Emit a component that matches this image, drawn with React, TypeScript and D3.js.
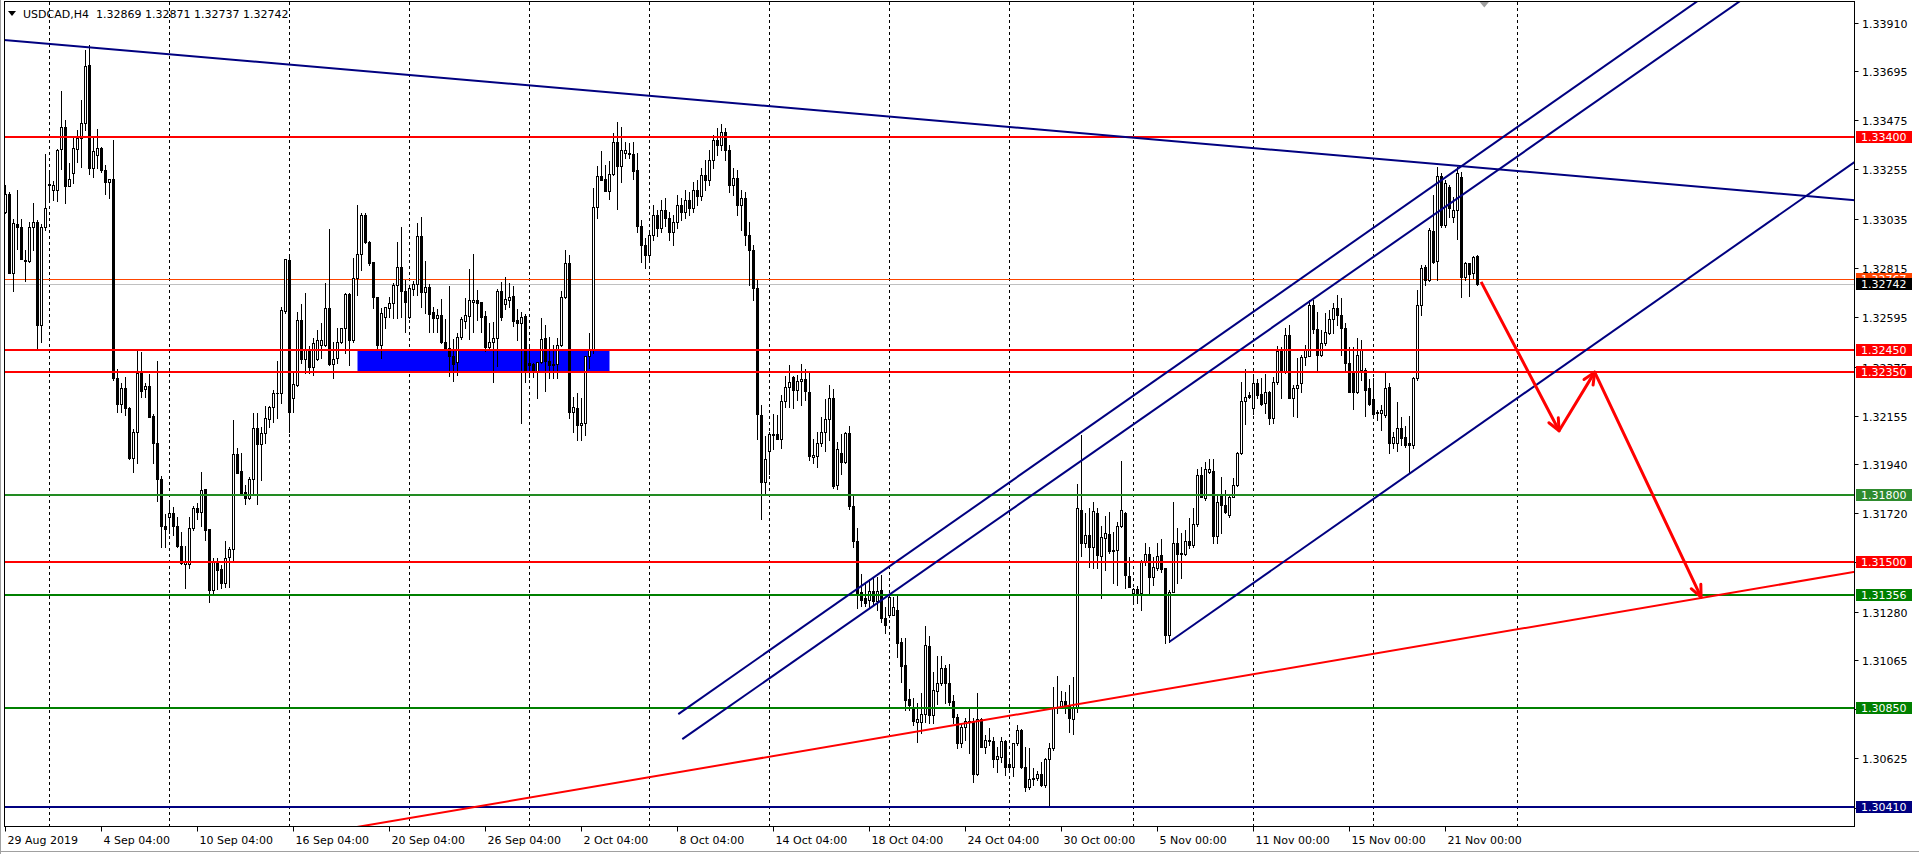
import { scaleLinear } from 'd3'

const W = 1919
const H = 854
const LEFT = 4.5
const RIGHT = 1854.5
const TOP = 1.5
const BOTTOM = 826.5
const FONT = '"DejaVu Sans", Verdana, sans-serif'

// USDCAD H4, prices in points (0.00001) above 1.30000: [open, high, low, close]
const BASE = 1.3
const POINT = 0.00001
const bars: number[][] = [
  [3066,3185,3061,3145],[3145,3153,2791,2794],[2794,3033,2713,3014],[3010,3162,2898,2999],[2996,3033,2856,2856],
  [2846,2895,2758,2850],[2847,3021,2843,2999],[2999,3104,2895,3021],[3019,3029,2456,2561],[2561,3010,2486,2999],
  [2999,3324,2984,3081],[3184,3248,3114,3188],[3163,3203,3118,3184],[3163,3347,3115,3342],[3345,3606,3258,3443],
  [3443,3476,3106,3182],[3182,3282,3181,3211],[3238,3398,3193,3349],[3345,3431,3289,3397],[3394,3565,3267,3463],
  [3463,3788,3431,3717],[3721,3810,3234,3260],[3260,3401,3222,3337],[3319,3435,3260,3349],[3352,3356,3245,3252],
  [3252,3275,3145,3197],[3200,3212,3126,3211],[3211,3386,2314,2322],[2322,2362,2173,2206],[2206,2300,2173,2277],
  [2277,2327,2158,2188],[2188,2195,1962,1967],[1967,2094,1905,2084],[2084,2448,1943,2344],[2344,2441,2240,2265],
  [2273,2300,2237,2288],[2288,2341,2151,2151],[2154,2163,1943,2034],[2034,2399,1776,1871],[1871,1886,1570,1664],
  [1664,1715,1570,1648],[1704,1776,1630,1719],[1722,1746,1622,1664],[1664,1701,1570,1573],[1575,1634,1491,1496],
  [1491,1575,1384,1506],[1491,1704,1474,1655],[1655,1752,1645,1742],[1742,1764,1694,1726],[1726,1902,1662,1823],
  [1826,1829,1600,1645],[1648,1648,1324,1377],[1377,1518,1362,1503],[1496,1518,1380,1466],[1469,1488,1384,1409],
  [1409,1595,1389,1521],[1525,1570,1391,1558],[1558,2136,1511,1983],[1983,2012,1900,1900],[1908,1987,1801,1809],
  [1816,1846,1759,1786],[1786,1880,1782,1871],[1871,2166,1805,2101],[2101,2166,1761,2029],[2029,2106,1868,2079],
  [2079,2198,2032,2143],[2139,2200,2106,2193],[2195,2270,2128,2258],[2255,2401,2143,2258],[2255,2642,2212,2627],
  [2624,2856,2612,2853],[2850,2873,2084,2172],[2234,2352,2172,2297],[2292,2619,2288,2582],[2582,2654,2390,2408],
  [2408,2703,2346,2453],[2444,2466,2346,2372],[2372,2502,2337,2480],[2408,2538,2404,2493],[2471,2569,2413,2493],
  [2471,2748,2466,2636],[2636,2989,2381,2386],[2386,2484,2323,2408],[2413,2548,2389,2484],[2484,2548,2478,2547],
  [2547,2703,2435,2698],[2698,2703,2381,2493],[2493,2859,2484,2770],[2770,3096,2694,2877],[2877,3060,2806,3051],
  [3051,3061,2926,2931],[2931,2935,2828,2837],[2841,2841,2636,2685],[2685,2685,2457,2471],[2471,2636,2413,2614],
  [2596,2640,2547,2640],[2636,2685,2596,2658],[2658,2748,2591,2739],[2739,2931,2591,2819],[2820,2999,2597,2713],
  [2713,2761,2530,2664],[2594,2734,2590,2724],[2720,2758,2694,2743],[2743,3014,2694,2958],[2958,3041,2642,2709],
  [2709,2846,2612,2730],[2730,2743,2530,2608],[2619,2642,2530,2590],[2590,2630,2530,2605],[2605,2675,2478,2486],
  [2484,2587,2456,2459],[2459,2734,2332,2423],[2423,2496,2311,2385],[2393,2526,2337,2505],[2505,2594,2496,2587],
  [2579,2679,2545,2605],[2602,2810,2498,2672],[2664,2877,2530,2672],[2672,2716,2582,2657],[2664,2664,2530,2597],
  [2600,2622,2445,2461],[2461,2568,2448,2483],[2483,2575,2307,2501],[2501,2721,2377,2712],[2712,2753,2582,2597],
  [2652,2776,2630,2675],[2672,2749,2642,2686],[2690,2734,2556,2579],[2582,2630,2493,2568],[2568,2619,2124,2597],
  [2600,2609,2307,2359],[2389,2471,2329,2381],[2386,2389,2329,2356],[2356,2396,2233,2393],[2393,2590,2392,2496],
  [2501,2560,2267,2401],[2401,2508,2322,2381],[2381,2471,2325,2386],[2385,2501,2325,2471],[2471,2712,2466,2684],
  [2684,2895,2679,2836],[2836,2873,2143,2173],[2173,2240,2084,2193],[2188,2255,2047,2114],[2114,2233,2047,2124],
  [2124,2423,2069,2423],[2423,2523,2367,2448],[2448,3171,2436,3086],[3086,3270,3037,3225],[3225,3337,3208,3208],
  [3212,3275,3160,3160],[3160,3292,3123,3233],[3233,3419,3230,3376],[3376,3465,3078,3271],[3271,3443,3200,3342],
  [3329,3376,3304,3342],[3327,3371,3304,3322],[3324,3376,3211,3249],[3252,3327,2977,3004],[3002,3029,2841,2917],
  [2917,2949,2815,2873],[2873,2984,2841,2962],[2962,3096,2940,3051],[3051,3074,2958,2993],[2993,3118,2975,3074],
  [3074,3127,3002,3038],[3038,3065,2940,2975],[2975,3051,2917,3020],[3020,3140,2993,3096],[3096,3127,3029,3065],
  [3065,3163,3038,3118],[3118,3154,3051,3082],[3082,3198,3065,3163],[3163,3208,3096,3136],[3136,3261,3118,3230],
  [3230,3297,3163,3208],[3208,3342,3185,3297],[3297,3408,3261,3386],[3386,3439,3319,3364],[3364,3457,3342,3422],
  [3422,3439,3297,3342],[3342,3364,3154,3185],[3185,3261,3140,3216],[3216,3252,3051,3096],[3096,3163,2984,3127],
  [3127,3154,2917,2962],[2962,3019,2739,2895],[2895,2917,2672,2725],[2725,2761,2052,2165],[2160,2203,1695,1860],
  [1860,2064,1803,1961],[1999,2082,1893,2072],[2067,2162,2007,2072],[2072,2158,2052,2052],[2052,2248,2011,2221],
  [2221,2332,2196,2283],[2283,2381,2196,2308],[2327,2332,2191,2268],[2268,2339,2226,2312],[2312,2387,2203,2321],
  [2321,2362,2226,2264],[2261,2347,1958,1974],[1970,2052,1946,1980],[1974,2082,1928,2032],[2032,2150,2022,2082],
  [2082,2230,1998,2140],[2140,2291,2045,2233],[2233,2274,1834,1841],[1844,2037,1829,2007],[1989,2075,1893,1949],
  [1949,2082,1946,2079],[2079,2110,1738,1750],[1750,1796,1567,1596],[1596,1652,1297,1358],[1368,1448,1305,1331],
  [1340,1414,1305,1321],[1331,1425,1297,1372],[1372,1433,1315,1328],[1328,1433,1290,1372],[1377,1444,1232,1250],
  [1253,1302,1183,1220],[1265,1354,1257,1344],[1265,1347,1265,1299],[1290,1354,1079,1139],[1146,1161,967,1039],
  [1042,1161,841,885],[890,933,841,863],[844,893,774,793],[789,871,699,799],[789,915,737,823],
  [823,1217,789,1131],[1128,1171,781,819],[819,1012,781,930],[927,1082,868,964],[964,1082,952,1027],
  [1027,1042,871,960],[960,1046,863,878],[881,908,781,808],[808,822,672,692],[692,781,677,764],
  [764,804,707,793],[789,844,647,793],[793,804,521,554],[554,915,551,799],[799,804,677,677],
  [677,729,647,707],[702,759,684,707],[702,722,588,621],[621,677,565,635],[630,722,610,704],
  [704,707,551,588],[600,625,565,585],[585,695,546,692],[692,774,684,751],[751,755,580,585],
  [588,677,480,496],[496,670,487,531],[531,580,506,536],[536,570,528,555],[555,610,501,506],
  [506,628,498,621],[621,695,411,670],[670,945,662,848],[848,993,826,856],[856,927,848,882],
  [882,923,826,863],[863,952,744,804],[799,990,734,848],[848,1850,833,1742],[1734,2069,1529,1585],
  [1585,1719,1570,1622],[1622,1742,1481,1570],[1570,1768,1474,1729],[1722,1744,1474,1533],[1529,1662,1340,1615],
  [1610,1707,1466,1630],[1625,1726,1541,1552],[1555,1637,1407,1552],[1555,1682,1399,1662],[1662,1953,1659,1734],
  [1719,1726,1384,1444],[1439,1525,1389,1391],[1362,1384,1317,1380],[1380,1395,1317,1365],[1365,1511,1287,1508],
  [1508,1588,1488,1536],[1536,1570,1362,1433],[1433,1525,1399,1478],[1474,1585,1466,1530],[1533,1603,1458,1470],
  [1474,1476,1141,1176],[1176,1377,1146,1369],[1369,1771,1369,1588],[1585,1652,1407,1537],[1536,1630,1429,1541],
  [1536,1645,1533,1597],[1597,1697,1563,1577],[1577,1742,1570,1671],[1671,1917,1662,1890],[1890,1927,1791,1793],
  [1786,1950,1779,1916],[1905,1960,1900,1917],[1908,1960,1585,1619],[1619,1805,1585,1768],[1796,1880,1630,1756],
  [1756,1823,1719,1726],[1712,1805,1704,1793],[1793,1875,1791,1846],[1846,1994,1841,1990],[1990,2307,1984,2221],
  [2221,2364,2118,2240],[2248,2262,2233,2240],[2188,2341,2163,2300],[2300,2319,2233,2248],[2252,2322,2203,2206],
  [2210,2341,2166,2260],[2260,2267,2117,2143],[2143,2327,2121,2304],[2307,2466,2295,2444],[2444,2463,2233,2352],
  [2356,2545,2347,2515],[2515,2560,2233,2233],[2233,2292,2154,2277],[2277,2411,2151,2292],[2300,2426,2262,2419],
  [2419,2471,2381,2452],[2422,2672,2422,2649],[2649,2672,2523,2541],[2541,2619,2359,2426],[2426,2538,2422,2478],
  [2478,2615,2471,2530],[2526,2627,2520,2586],[2586,2658,2523,2635],[2635,2694,2560,2605],[2605,2679,2426,2545],
  [2545,2568,2359,2389],[2389,2463,2262,2262],[2356,2463,2185,2260],[2260,2501,2255,2426],[2359,2493,2314,2448],
  [2359,2367,2154,2270],[2277,2318,2203,2207],[2228,2322,2151,2163],[2166,2181,2136,2173],[2168,2203,2091,2181],
  [2158,2344,2151,2277],[2282,2302,1990,2034],[2032,2084,2009,2061],[2032,2218,1999,2099],[2099,2151,2024,2054],
  [2059,2109,2017,2024],[2032,2154,1898,2024],[2024,2329,2009,2322],[2322,2716,2314,2649],[2649,2828,2605,2813],
  [2818,2828,2739,2761],[2761,2992,2758,2984],[2981,3140,2836,2843],[2847,3267,2761,3225],[3225,3238,2999,3007],
  [3007,3208,2999,3196],[3178,3185,3041,3081],[3044,3133,3021,3074],[3074,3267,2944,3240],[3222,3245,2684,2776],
  [2776,2843,2761,2836],[2836,2836,2690,2788],[2791,2868,2769,2865],[2869,2871,2737,2742],
]

const title = 'USDCAD,H4  1.32869 1.32871 1.32737 1.32742'

const priceTicks = [
  1.3391, 1.33695, 1.33475, 1.33255, 1.33035, 1.32815, 1.32595, 1.32375, 1.32155,
  1.3194, 1.3172, 1.315, 1.3128, 1.31065, 1.30845, 1.30625, 1.30405,
]

const timeLabels = [
  '29 Aug 2019', '4 Sep 04:00', '10 Sep 04:00', '16 Sep 04:00', '20 Sep 04:00', '26 Sep 04:00',
  '2 Oct 04:00', '8 Oct 04:00', '14 Oct 04:00', '18 Oct 04:00', '24 Oct 04:00', '30 Oct 00:00',
  '5 Nov 00:00', '11 Nov 00:00', '15 Nov 00:00', '21 Nov 00:00',
]
const LABEL_STEP = 24
const gridBars = [11, 41, 71, 101, 131, 161, 191, 221, 251, 282, 312, 342, 378]

// horizontal levels
const levelPrices = [1.334, 1.3245, 1.3235, 1.318, 1.315, 1.31356, 1.3085, 1.3041]
const levelColors = ['#ff0000', '#ff0000', '#ff0000', '#228b22', '#ff0000', '#008000', '#008000', '#000080']
const askPrice = 1.32767
const bidPrice = 1.32742

// right-axis price tags
const tagPrices = [1.334, 1.32767, 1.32742, 1.3245, 1.3235, 1.318, 1.315, 1.31356, 1.3085, 1.3041]
const tagColors = ['#ff0000', '#ff4500', '#000000', '#ff0000', '#ff0000', '#2e8b2e', '#ff0000', '#008000', '#008000', '#000080']

// trend lines: [bar, price] anchors
const trendLines = [
  { a: [16, 1.33808], b: [325, 1.3333], color: '#000080', both: true },
  { a: [168.2, 1.30823], b: [326.9, 1.32806], color: '#000080', both: false },
  { a: [169.2, 1.30711], b: [328.7, 1.32699], color: '#000080', both: false },
  { a: [291, 1.31146], b: [461.2, 1.33275], color: '#000080', both: false },
  { a: [218.7, 1.30717], b: [462.2, 1.31458], color: '#ff0000', both: true },
]

// support zone
const zoneBars = [88, 151]
const zonePrices = [1.3235, 1.3245]

// projected path
const arrowPath = [
  [368.9, 1.32753],
  [388.4, 1.32088],
  [397.3, 1.3235],
  [423.9, 1.31345],
]
const shiftBar = 369.7

export default function App() {
  const x = scaleLinear().domain([0, 1]).range([5.5, 9.5])
  const y = scaleLinear().domain([1.30321, 1.34005]).range([BOTTOM, TOP])
  const py = (v: number) => y(BASE + v * POINT)

  const linePts = (t: (typeof trendLines)[number]) => {
    const x1 = x(t.a[0])
    const y1 = y(t.a[1])
    const dx = x(t.b[0]) - x1
    const dy = y(t.b[1]) - y1
    const k = 20
    const sx = t.both ? x1 - dx * k : x1
    const sy = t.both ? y1 - dy * k : y1
    return { x1: sx, y1: sy, x2: x1 + dx * k, y2: y1 + dy * k }
  }

  const arrowXY = arrowPath.map(([b, p]) => [x(b), y(p)])
  const heads = arrowXY.slice(1).map((pt, i) => {
    const prev = arrowXY[i]
    const ang = Math.atan2(pt[1] - prev[1], pt[0] - prev[0])
    const L = 13
    const th = 0.42
    return [
      [pt[0] - L * Math.cos(ang - th), pt[1] - L * Math.sin(ang - th)],
      pt,
      [pt[0] - L * Math.cos(ang + th), pt[1] - L * Math.sin(ang + th)],
    ]
  })

  const sx = x(shiftBar)

  return (
    <>
      <style>{'body{margin:0;background:#fff}'}</style>
      <svg width={W} height={H} viewBox={`0 0 ${W} ${H}`} style={{ display: 'block' }} fontFamily={FONT}>
        <defs>
          <clipPath id="plot">
            <rect x={LEFT} y={TOP} width={RIGHT - LEFT} height={BOTTOM - TOP} />
          </clipPath>
        </defs>
        <rect width={W} height={H} fill="#fff" />
        <line x1={0.5} x2={0.5} y1={0} y2={H} stroke="#a0a0a0" />
        <line x1={0} x2={W} y1={851.5} y2={851.5} stroke="#a0a0a0" />

        <g clipPath="url(#plot)">
          {gridBars.map((b) => (
            <line key={b} x1={x(b)} x2={x(b)} y1={TOP} y2={BOTTOM} stroke="#000" strokeDasharray="3,3" shapeRendering="crispEdges" />
          ))}

          <rect
            x={x(zoneBars[0])}
            y={y(zonePrices[1])}
            width={x(zoneBars[1]) - x(zoneBars[0])}
            height={y(zonePrices[0]) - y(zonePrices[1])}
            fill="#0000ff"
          />

          <line x1={LEFT} x2={RIGHT} y1={Math.round(y(bidPrice)) + 0.5} y2={Math.round(y(bidPrice)) + 0.5} stroke="#c0c0c0" shapeRendering="crispEdges" />
          <line x1={LEFT} x2={RIGHT} y1={Math.round(y(askPrice)) + 0.5} y2={Math.round(y(askPrice)) + 0.5} stroke="#ff4500" shapeRendering="crispEdges" />

          <g shapeRendering="crispEdges">
            {bars.map(([o, h, l, c], i) => {
              const cx = Math.round(x(i) - 0.5)
              const yo = Math.round(py(o))
              const yc = Math.round(py(c))
              const yh = Math.round(py(h))
              const yl = Math.round(py(l))
              const top = Math.min(yo, yc)
              const bot = Math.max(yo, yc)
              const bull = c >= o
              return (
                <g key={i}>
                  <line x1={cx + 0.5} x2={cx + 0.5} y1={yh} y2={yl + 1} stroke="#000" />
                  {bot - top < 1 ? (
                    <line x1={cx - 1} x2={cx + 2} y1={top + 0.5} y2={top + 0.5} stroke="#000" />
                  ) : bull ? (
                    <rect x={cx - 0.5} y={top + 0.5} width={2} height={bot - top} fill="#fff" stroke="#000" />
                  ) : (
                    <rect x={cx - 1} y={top} width={3} height={bot - top + 1} fill="#000" />
                  )}
                </g>
              )
            })}
          </g>

          {levelPrices.map((p, i) => (
            <line key={p} x1={LEFT} x2={RIGHT} y1={Math.round(y(p))} y2={Math.round(y(p))} stroke={levelColors[i]} strokeWidth={2} />
          ))}

          {trendLines.map((t, i) => {
            const s = linePts(t)
            return <line key={i} {...s} stroke={t.color} strokeWidth={2} />
          })}

          <polyline
            points={arrowXY.map((p) => p.join(',')).join(' ')}
            fill="none"
            stroke="#ff0000"
            strokeWidth={3}
            strokeLinejoin="round"
          />
          {heads.map((hd, i) => (
            <polyline key={i} points={hd.map((p) => p.join(',')).join(' ')} fill="none" stroke="#ff0000" strokeWidth={3} strokeLinecap="round" strokeLinejoin="round" />
          ))}

          <path d={`M${sx - 5},${TOP} L${sx + 5},${TOP} L${sx},${TOP + 6} Z`} fill="#a0a0a0" />
        </g>

        <rect x={LEFT} y={TOP} width={RIGHT - LEFT} height={BOTTOM - TOP} fill="none" stroke="#000" />

        {/* title */}
        <path d="M8,11 L16,11 L12,16 Z" fill="#000" />
        <text x={23} y={18} fontSize={11} fill="#000">
          {title.replace('  ', '\u00a0\u00a0')}
        </text>

        {/* price axis */}
        {priceTicks.map((p) => {
          const yy = Math.round(y(p)) + 0.5
          return (
            <g key={p}>
              <line x1={RIGHT} x2={RIGHT + 4} y1={yy} y2={yy} stroke="#000" />
              <text x={1862} y={yy + 4} fontSize={11} fill="#000">
                {p.toFixed(5)}
              </text>
            </g>
          )
        })}
        {tagPrices.map((p, i) => {
          const yy = Math.round(y(p))
          return (
            <g key={p}>
              <rect x={1856} y={yy - 6} width={56} height={12} fill={tagColors[i]} />
              <text x={1861} y={yy + 4} fontSize={11} fill="#fff">
                {p.toFixed(5)}
              </text>
            </g>
          )
        })}

        {/* time axis */}
        {timeLabels.map((t, i) => {
          const xx = Math.round(x(i * LABEL_STEP)) - 0.5
          return (
            <g key={t}>
              <line x1={xx} x2={xx} y1={BOTTOM} y2={BOTTOM + 5} stroke="#000" />
              <text x={xx + 2} y={843.5} fontSize={11} fill="#000">
                {t}
              </text>
            </g>
          )
        })}
      </svg>
    </>
  )
}
